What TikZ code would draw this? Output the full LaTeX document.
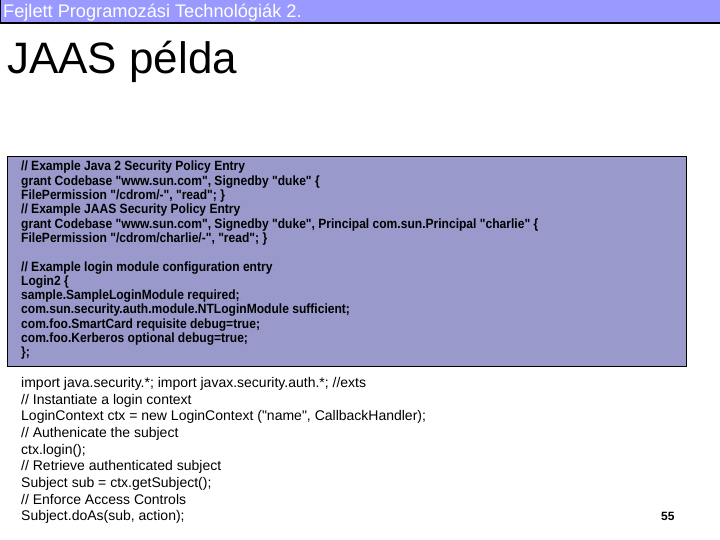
\documentclass[tikz,border=0pt]{standalone}
\usepackage{fontspec}
\setmainfont[Ligatures=TeXReset]{Liberation Sans}
\newfontfamily\boxfont[Ligatures=TeXReset,FakeStretch=0.9]{Liberation Sans}
\begin{document}
\begin{tikzpicture}[x=1pt,y=-1pt,
  hdr/.style={anchor=base west,inner sep=0pt,text=white,font=\fontsize{18.2}{18}\selectfont},
  boxtxt/.style={anchor=north west,inner sep=0pt,align=left,font=\boxfont\bfseries\fontsize{13.4}{14.3}\selectfont},
  code/.style={anchor=north west,inner sep=0pt,align=left,font=\fontsize{14}{16.7}\selectfont}]
\useasboundingbox (0,0) rectangle (720,540);
\fill[white] (0,0) rectangle (720,540);
\fill[fill={rgb,255:red,153;green,153;blue,255}] (0,0) rectangle (720,23);
\draw[line width=1.5pt] (0,23) -- (720,23);
\draw[line width=1pt] (0.5,0) -- (0.5,23);
\node[hdr] (h) at (3,18) {Fejlett Programozási Technológiák 2.};
\node[anchor=base west,inner sep=0pt,font=\fontsize{44}{44}\selectfont] (t) at (7,74) {JAAS példa};
\node[draw=black,line width=1pt,fill={rgb,255:red,153;green,153;blue,204},minimum width=679,minimum height=210,anchor=north west,inner sep=0pt] (box) at (7,156) {};
\node[boxtxt] (bt) at (21,161) {// Example Java 2 Security Policy Entry\\
grant Codebase "www.sun.com", Signedby "duke" \{\\
FilePermission "/cdrom/-", "read"; \}\\
// Example JAAS Security Policy Entry\\
grant Codebase "www.sun.com", Signedby "duke", Principal com.sun.Principal "charlie" \{\\
FilePermission "/cdrom/charlie/-", "read"; \}\\[14.3pt]
// Example login module configuration entry\\
Login2 \{\\
sample.SampleLoginModule required;\\
com.sun.security.auth.module.NTLoginModule sufficient;\\
com.foo.SmartCard requisite debug=true;\\
com.foo.Kerberos optional debug=true;\\
\};};
\node[code] (c) at (21,377) {import java.security.*; import javax.security.auth.*; //exts\\
// Instantiate a login context\\
LoginContext ctx = new LoginContext ("name", CallbackHandler);\\
// Authenicate the subject\\
ctx.login();\\
// Retrieve authenticated subject\\
Subject sub = ctx.getSubject();\\
// Enforce Access Controls\\
Subject.doAs(sub, action);};
\node[anchor=base west,inner sep=0pt,font=\bfseries\fontsize{12}{12}\selectfont] (n) at (661,520) {55};
\end{tikzpicture}
\end{document}
